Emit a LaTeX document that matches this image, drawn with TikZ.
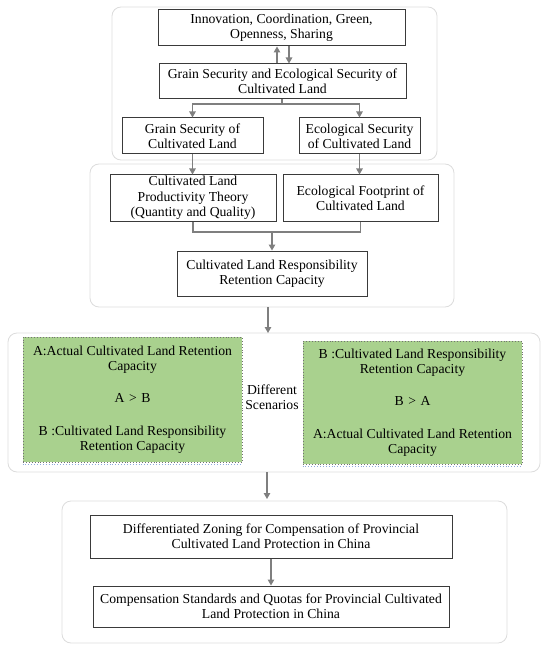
\documentclass[tikz,border=0pt]{standalone}
\usepackage{fontspec}
\setmainfont{Liberation Serif}
\usetikzlibrary{arrows.meta,calc}
\definecolor{arrgray}{HTML}{7F7F7F}
\definecolor{grpgray}{HTML}{DCDCDC}
\definecolor{boxline}{HTML}{3A3A3A}
\definecolor{greenfill}{HTML}{A9D18E}
\definecolor{dotblue}{HTML}{8FAADC}
\newcommand{\myfs}{\fontsize{13.7}{15.3}\selectfont}
\tikzset{
  grp/.style={draw=grpgray, line width=0.8pt, rounded corners=9pt},
  bx/.style={draw=boxline, line width=1pt, fill=white, align=center, inner sep=1pt,
     font=\myfs},
  gbx/.style={draw=black!55, dotted, line width=0.9pt, fill=greenfill, align=center, inner sep=1pt,
     font=\myfs},
  arr/.style={draw=arrgray, line width=1.2pt, -{Triangle[length=6pt,width=6.5pt]}},
  ln/.style={draw=arrgray, line width=1.2pt},
  lbl/.style={align=center, inner sep=1pt, font=\myfs},
}
\begin{document}
\begin{tikzpicture}[x=1pt,y=-1pt]
\useasboundingbox (0,0) rectangle (550,652);
% groups
\draw[grp] (112,7) rectangle (437,160);
\draw[grp] (90,164) rectangle (454,307);
\draw[grp] (8,333) rectangle (540,472);
\draw[grp] (62,501) rectangle (507,643);
% group 1
\node[bx, minimum width=247pt, minimum height=36pt] (b1) at (281.5,28) {Innovation, Coordination, Green,\\Openness, Sharing};
\node[bx, minimum width=247pt, minimum height=35pt] (b2) at (282.5,81.5) {Grain Security and Ecological Security of\\Cultivated Land};
\node[bx, minimum width=141pt, minimum height=36pt] (b3) at (192.5,136) {Grain Security of\\Cultivated Land};
\node[bx, minimum width=121pt, minimum height=36pt] (b4) at (359.5,136) {Ecological Security\\of Cultivated Land};
% group 2
\node[bx, minimum width=166pt, minimum height=46pt] (b5) at (193,198) {Cultivated Land\\Productivity Theory\\(Quantity and Quality)};
\node[bx, minimum width=155pt, minimum height=46pt] (b6) at (360.5,198) {Ecological Footprint of\\Cultivated Land};
\node[bx, minimum width=190pt, minimum height=45pt] (b7) at (272,273.5) {Cultivated Land Responsibility\\Retention Capacity};
% group 3
\node[gbx, minimum width=219pt, minimum height=125pt] (gl) at (132.5,399.5) {A:Actual Cultivated Land Retention\\Capacity\\[17pt]A\,\,>\,\,B\\[17pt]B :Cultivated Land Responsibility\\Retention Capacity};
\node[gbx, minimum width=219pt, minimum height=123pt] (gr) at (412.5,402.5) {B :Cultivated Land Responsibility\\Retention Capacity\\[17pt]B\,\,>\,\,A\\[17pt]A:Actual Cultivated Land Retention\\Capacity};
\draw[dotblue, dotted, line width=0.9pt] ($(gl.south west)+(0,1.5)$) -- ($(gl.south east)+(0,1.5)$);
\draw[dotblue, dotted, line width=0.9pt] ($(gr.south west)+(0,1.5)$) -- ($(gr.south east)+(0,1.5)$);
\node[lbl] (ds) at (272,397) {Different\\Scenarios};
% group 4
\node[bx, minimum width=362pt, minimum height=43pt] (b8) at (271,536.5) {Differentiated Zoning for Compensation of Provincial\\Cultivated Land Protection in China};
\node[bx, minimum width=356pt, minimum height=41pt] (b9) at (271,606.5) {Compensation Standards and Quotas for Provincial Cultivated\\Land Protection in China};
% connectors
\draw[arr] (b2.north -| 277,0) -- (b1.south -| 277,0);
\draw[arr] (b1.south -| 289,0) -- (b2.north -| 289,0);
\coordinate (j1) at (282,104);
\draw[ln] (b2.south -| j1) -- (j1);
\draw[arr] (j1) -| (b3.north);
\draw[arr] (j1) -| (b4.north);
\draw[arr] (b3.south) -- (b3.south |- b5.north);
\draw[arr] (b4.south) -- (b4.south |- b6.north);
\coordinate (j2) at (272,232);
\draw[ln] (b5.south) |- (j2) -| (b6.south);
\draw[arr] (j2) -- (b7.north);
\coordinate (g2b) at (268,307);
\coordinate (g3t) at (268,333);
\draw[arr] (g2b) -- (g3t);
\coordinate (g3b) at (267,472);
\coordinate (g4t) at (267,499);
\draw[arr] (g3b) -- (g4t);
\draw[arr] (b8.south -| 271,0) -- (b9.north -| 271,0);
\end{tikzpicture}
\end{document}
